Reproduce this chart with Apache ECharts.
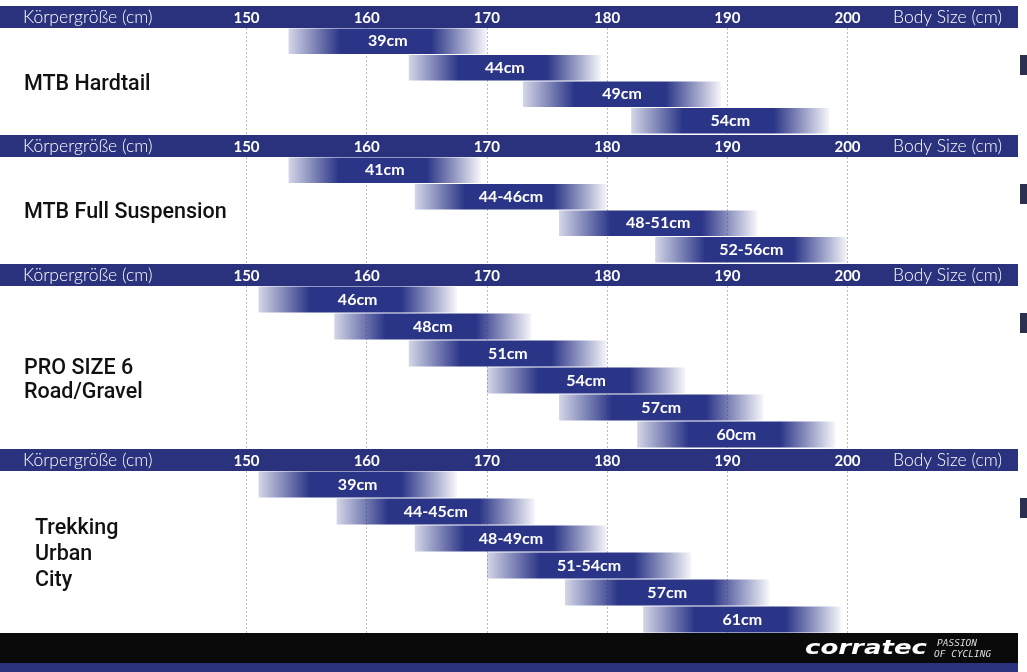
<!DOCTYPE html>
<html><head><meta charset="utf-8">
<script src="https://cdn.jsdelivr.net/npm/echarts@6/dist/echarts.min.js"></script>
<style>html,body{margin:0;padding:0;background:#fff}#c{width:1027px;height:672px}</style>
</head><body><div id="c"></div>
<script>
// ---- data ----
const ticks = [150, 160, 170, 180, 190, 200];
const leftHeader = 'Körpergröße (cm)';
const rightHeader = 'Body Size (cm)';

const hardtailTitle = ['MTB Hardtail'];
const hardtailSizes = ['39cm', '44cm', '49cm', '54cm'];
const hardtailFrom = [153.5, 163.5, 173, 182];
const hardtailTo = [170, 179.5, 189.5, 198.5];

const fullTitle = ['MTB Full Suspension'];
const fullSizes = ['41cm', '44-46cm', '48-51cm', '52-56cm'];
const fullFrom = [153.5, 164, 176, 184];
const fullTo = [169.5, 180, 192.5, 200];

const roadTitle = ['PRO SIZE 6', 'Road/Gravel'];
const roadSizes = ['46cm', '48cm', '51cm', '54cm', '57cm', '60cm'];
const roadFrom = [151, 157.3, 163.5, 170, 176, 182.5];
const roadTo = [167.5, 173.7, 180, 186.5, 193, 199];

const trekTitle = ['Trekking', 'Urban', 'City'];
const trekSizes = ['39cm', '44-45cm', '48-49cm', '51-54cm', '57cm', '61cm'];
const trekFrom = [151, 157.5, 164, 170, 176.5, 183];
const trekTo = [167.5, 174, 180, 187, 193.5, 199.5];

const groups = [
  { title: hardtailTitle, sizes: hardtailSizes, from: hardtailFrom, to: hardtailTo },
  { title: fullTitle, sizes: fullSizes, from: fullFrom, to: fullTo },
  { title: roadTitle, sizes: roadSizes, from: roadFrom, to: roadTo },
  { title: trekTitle, sizes: trekSizes, from: trekFrom, to: trekTo }
];

// ---- layout (positions / styles) ----
const NAVY = '#2a327d';
const BAR = '#2b3587';
const layout = [
  { head: 6, top: 28, height: 106, titleY: [85], titleX: 24 },
  { head: 135, top: 157, height: 106, titleY: [213], titleX: 24 },
  { head: 264, top: 286, height: 162, titleY: [369, 393], titleX: 24 },
  { head: 449, top: 471, height: 162, titleY: [529, 555, 581], titleX: 35 }
];
const GRID_LEFT = 246.5, GRID_RIGHT = 1027 - 847.5;

const chart = echarts.init(document.getElementById('c'), null, { renderer: 'canvas' });

const grids = [], xAxes = [], yAxes = [], series = [], graphics = [];

layout.forEach((L, i) => {
  graphics.push({ type: 'rect', z: -10, shape: { x: 0, y: L.head, width: 1018, height: 22 }, style: { fill: NAVY } });
  graphics.push({ type: 'text', z: 10, x: 23, y: L.head + 11, style: { text: leftHeader, fill: '#fff', font: '300 17.5px Lato', verticalAlign: 'middle' } });
  graphics.push({ type: 'text', z: 10, x: 893, y: L.head + 11, style: { text: rightHeader, fill: '#fff', font: '300 17.5px Lato', verticalAlign: 'middle' } });
  graphics.push({ type: 'rect', z: -10, shape: { x: 1020, y: L.head + 49, width: 7, height: 20 }, style: { fill: '#2c3050' } });
  L.titleY.forEach((ty, k) => {
    graphics.push({ type: 'text', z: 10, x: L.titleX, y: ty, style: { text: groups[i].title[k], fill: '#111', font: '500 21.5px Roboto', verticalAlign: 'middle' } });
  });
});
graphics.push({ type: 'rect', z: -10, shape: { x: 0, y: 633, width: 1018, height: 30 }, style: { fill: '#0a0a0a' } });
graphics.push({ type: 'rect', z: -10, shape: { x: 0, y: 663, width: 1018, height: 9 }, style: { fill: NAVY } });
graphics.push({ type: 'text', z: 10, x: 805, y: 649, scaleX: 1.3, style: { text: 'corratec', fill: '#fff', font: 'italic 900 20px "DejaVu Sans"', verticalAlign: 'middle' } });
graphics.push({ type: 'text', z: 10, x: 937, y: 644, style: { text: 'PASSION', fill: '#ddd', font: 'italic 9.5px "DejaVu Sans Mono"', verticalAlign: 'middle' } });
graphics.push({ type: 'text', z: 10, x: 934, y: 655, style: { text: 'OF CYCLING', fill: '#ddd', font: 'italic 9.5px "DejaVu Sans Mono"', verticalAlign: 'middle' } });

const grad = {
  type: 'linear', x: 0, y: 0, x2: 1, y2: 0,
  colorStops: [
    { offset: 0, color: 'rgba(43,53,135,0.2)' },
    { offset: 0.26, color: BAR },
    { offset: 0.72, color: BAR },
    { offset: 1, color: 'rgba(43,53,135,0.04)' }
  ]
};

groups.forEach((g, i) => {
  const L = layout[i];
  grids.push({ left: GRID_LEFT, right: GRID_RIGHT, top: L.top, height: L.height });
  xAxes.push({
    gridIndex: i, type: 'value', position: 'top', min: ticks[0], max: ticks[ticks.length - 1], interval: 10,
    axisLine: { show: false }, axisTick: { show: false },
    axisLabel: { color: '#fff', fontWeight: 'bold', fontSize: 15, fontFamily: 'Lato', margin: 2.5,
      formatter: v => ticks.includes(v) ? String(v) : '' },
    splitLine: { show: true, lineStyle: { color: '#bdbdbd', width: 1, type: [2, 2] } }
  });
  yAxes.push({ gridIndex: i, type: 'category', inverse: true, data: g.sizes, show: false });
  series.push({
    type: 'custom', xAxisIndex: i, yAxisIndex: i,
    encode: { x: [1, 2], y: 0 },
    data: g.sizes.map((s, k) => [k, g.from[k], g.to[k], s]),
    renderItem: (params, api) => {
      const c = api.value(0);
      const p0 = api.coord([api.value(1), c]);
      const p1 = api.coord([api.value(2), c]);
      const h = api.size([0, 1])[1];
      return {
        type: 'group',
        children: [
          { type: 'rect', shape: { x: p0[0], y: p0[1] - h / 2 + 0.5, width: p1[0] - p0[0], height: h - 1 }, style: { fill: grad } },
          { type: 'text', x: (p0[0] + p1[0]) / 2, y: p0[1], style: { text: g.sizes[params.dataIndex], fill: '#fff', font: 'bold 16px Lato', align: 'center', verticalAlign: 'middle' } }
        ]
      };
    }
  });
});

chart.setOption({
  animation: false,
  backgroundColor: '#fff',
  grid: grids, xAxis: xAxes, yAxis: yAxes, series: series,
  graphic: { elements: graphics }
});
</script>
</body></html>
